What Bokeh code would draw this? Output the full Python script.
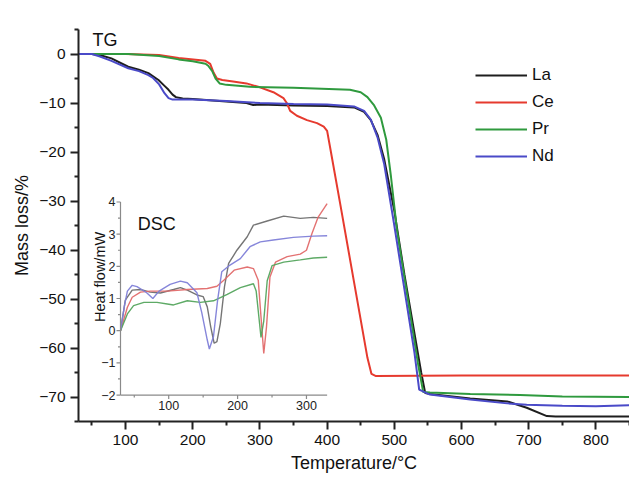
import math
from bokeh.plotting import figure
from bokeh.models import Range1d, FixedTicker, Legend, LegendItem
from bokeh.core.properties import value
from bokeh.embed import file_html
from bokeh.resources import INLINE

FONT = "Liberation Sans"

# ---------------- TG data (temperature / °C, mass loss / %) ----------------
tg_la_t = [30, 50, 64, 79, 104, 120, 134, 149, 158, 164, 170, 175, 185, 200, 250, 280, 290, 300, 350, 400,
           440, 455, 465, 475, 485, 500, 515, 530, 540, 546, 553, 613, 668, 697, 727, 740, 850]
tg_la_m = [0, 0, -0.3, -0.9, -2.6, -3.2, -3.9, -5.3, -6.5, -7.3, -8.3, -8.8, -9.1, -9.2, -9.7, -10.0, -10.4, -10.3, -10.5, -10.6,
           -10.9, -11.8, -13.5, -16.5, -21.5, -32, -45, -57, -65, -69.2, -69.4, -70.3, -70.9, -72.2, -73.9, -74.0, -74.0]

tg_ce_t = [30, 100, 150, 179, 219, 226, 231, 236, 244, 260, 280, 300, 320, 335, 340, 345, 355, 370, 385, 395,
           400, 405, 420, 440, 460, 466, 472, 600, 850]
tg_ce_m = [0, 0, -0.2, -0.8, -1.4, -2.0, -3.8, -5.0, -5.3, -5.6, -6.0, -6.8, -7.8, -9.0, -10.0, -11.6, -12.6, -13.5, -14.1, -14.8,
           -15.7, -19.5, -31, -46.5, -62, -65.3, -65.7, -65.6, -65.6]

tg_pr_t = [30, 104, 150, 179, 200, 219, 223, 229, 234, 240, 250, 285, 350, 434, 450, 460, 470, 480, 488, 495,
           504, 520, 535, 543, 553, 613, 687, 750, 850]
tg_pr_m = [0, 0, -0.4, -1.1, -1.5, -2.0, -2.4, -3.5, -5.0, -6.0, -6.3, -6.7, -6.9, -7.3, -7.8, -8.8, -10.5, -13.0, -17.5, -25,
           -36, -50, -63, -69.0, -69.1, -69.4, -69.6, -69.9, -70.0]

tg_nd_t = [30, 50, 62, 79, 104, 120, 134, 141, 150, 158, 164, 170, 180, 200, 250, 300, 350, 400, 440, 455,
           465, 475, 485, 500, 515, 530, 537, 553, 613, 668, 697, 750, 800, 850]
tg_nd_m = [0, 0, -0.5, -1.4, -2.9, -3.5, -4.3, -4.9, -6.2, -8.0, -9.0, -9.3, -9.3, -9.3, -9.6, -10.0, -10.2, -10.3, -10.7, -11.6,
           -13.4, -17.0, -22.5, -35, -48, -61, -68.5, -69.5, -70.5, -71.3, -71.6, -71.8, -71.9, -71.7]

# ---------------- DSC inset data (temperature / °C, heat flow / mW) ----------------
dsc_la_t = [30, 37, 47, 59, 73, 88, 107, 117, 127, 141, 150, 156, 161, 166, 170, 175, 181, 187, 199, 214,
            223, 243, 267, 291, 310, 330]
dsc_la_v = [0, 0.95, 1.26, 1.28, 1.2, 1.17, 1.28, 1.34, 1.26, 1.11, 1.06, 0.74, 0.12, -0.39, -0.34, 0.23, 1.37, 2.09, 2.5, 2.92,
            3.28, 3.41, 3.56, 3.49, 3.52, 3.49]

dsc_ce_t = [30, 40, 47, 59, 73, 98, 127, 156, 170, 180, 195, 214, 223, 230, 234, 238, 242, 247, 255, 272,
            291, 300, 308, 317, 330]
dsc_ce_v = [0, 0.73, 1.04, 1.2, 1.23, 1.23, 1.28, 1.31, 1.38, 1.57, 1.88, 1.98, 1.93, 1.57, 0.43, -0.71, 0.12, 1.67, 2.13, 2.3,
            2.38, 2.5, 3.02, 3.53, 3.95]

dsc_pr_t = [30, 40, 49, 64, 83, 98, 107, 127, 146, 165, 185, 204, 223, 227, 231, 234, 238, 243, 250, 267,
            291, 310, 330]
dsc_pr_v = [0, 0.52, 0.78, 0.88, 0.88, 0.83, 0.8, 0.93, 0.88, 0.93, 1.13, 1.34, 1.46, 1.23, 0.41, -0.21, 0.3, 1.55, 2.02, 2.13,
            2.2, 2.26, 2.28]

dsc_nd_t = [30, 36, 40, 47, 54, 68, 77, 86, 102, 117, 127, 141, 148, 156, 159, 165, 171, 177, 189, 204,
            218, 233, 252, 281, 310, 330]
dsc_nd_v = [0, 0.8, 1.23, 1.41, 1.37, 1.18, 1.0, 1.23, 1.44, 1.54, 1.49, 1.18, 0.56, -0.29, -0.57, -0.18, 0.95, 1.83, 2.04, 2.24,
            2.61, 2.76, 2.82, 2.9, 2.94, 2.95]

# ticks
main_x_ticks = [100, 200, 300, 400, 500, 600, 700, 800]
main_x_minor = [50, 150, 250, 350, 450, 550, 650, 750, 850]
main_y_ticks = [-70, -60, -50, -40, -30, -20, -10, 0]
main_y_minor = [-75, -65, -55, -45, -35, -25, -15, -5, 5]
inset_x_ticks = [100, 200, 300]
inset_x_minor = [50, 150, 250]
inset_y_ticks = [-2, -1, 0, 1, 2, 3, 4]
inset_y_minor = [-1.5, -0.5, 0.5, 1.5, 2.5, 3.5]

names = ["La", "Ce", "Pr", "Nd"]
main_colors = ["#1e1e1e", "#e63a2e", "#2f9a3e", "#4a4ac8"]
dsc_colors = ["#6e6e6e", "#e26a6a", "#55a55e", "#8080d8"]


def minus(v):
    s = ("%g" % abs(v))
    return ("\u2212" + s) if v < 0 else s


p = figure(width=629, height=477, x_range=Range1d(30, 850), y_range=Range1d(-75, 5),
           output_backend="svg", toolbar_location=None,
           min_border_left=78, min_border_right=0, min_border_top=29, min_border_bottom=56)
p.outline_line_color = None
p.xgrid.visible = False
p.ygrid.visible = False
p.background_fill_color = "white"
p.border_fill_color = "white"

for ax in (p.xaxis[0], p.yaxis[0]):
    ax.axis_line_color = "#222222"
    ax.axis_line_width = 2
    ax.major_tick_line_color = "#222222"
    ax.major_tick_line_width = 2
    ax.minor_tick_line_color = "#222222"
    ax.minor_tick_line_width = 2
    ax.major_tick_in = 0
    ax.major_tick_out = 8
    ax.minor_tick_in = 0
    ax.minor_tick_out = 4
    ax.major_label_text_font = FONT
    ax.major_label_text_font_size = "15.5px"
    ax.major_label_text_color = "#111111"
    ax.axis_label_text_font = FONT
    ax.axis_label_text_font_size = "18px"
    ax.axis_label_text_font_style = "normal"
    ax.axis_label_text_color = "#111111"

p.xaxis[0].ticker = FixedTicker(ticks=main_x_ticks, minor_ticks=main_x_minor)
p.yaxis[0].ticker = FixedTicker(ticks=main_y_ticks, minor_ticks=main_y_minor)
p.yaxis[0].major_label_overrides = {v: minus(v) for v in main_y_ticks}
p.xaxis[0].axis_label = "Temperature/\u00b0C"
p.yaxis[0].axis_label = "Mass loss/%"
p.xaxis[0].major_label_standoff = 5
p.yaxis[0].major_label_standoff = 5
p.xaxis[0].axis_label_standoff = 5
p.yaxis[0].axis_label_standoff = 4

tg_series = [(tg_la_t, tg_la_m), (tg_ce_t, tg_ce_m), (tg_pr_t, tg_pr_m), (tg_nd_t, tg_nd_m)]
renderers = []
for (t, m), c in zip(tg_series, main_colors):
    renderers.append(p.line(t, m, line_color=c, line_width=2))

p.text(x=[51], y=[2.9], text=["TG"], text_font=value(FONT), text_font_size="18px",
       text_baseline="alphabetic", text_align="left", text_color="#111111")

legend = Legend(items=[LegendItem(label=n, renderers=[r]) for n, r in zip(names, renderers)],
                location=(397, 255), orientation="vertical",
                glyph_width=52, glyph_height=20, label_height=20, spacing=7,
                padding=0, margin=0, border_line_color=None, background_fill_alpha=0,
                label_text_font=FONT, label_text_font_size="17px", label_standoff=5,
                label_text_color="#111111")
p.add_layout(legend)

# ---------------- inset (DSC) ----------------
ins = p.subplot(x_source=Range1d(30, 330), y_source=Range1d(-2, 4),
                x_target=Range1d(92.5, 400), y_target=Range1d(-69.6, -30.2))

dsc_series = [(dsc_la_t, dsc_la_v), (dsc_ce_t, dsc_ce_v), (dsc_pr_t, dsc_pr_v), (dsc_nd_t, dsc_nd_v)]
for (t, v), c in zip(dsc_series, dsc_colors):
    ins.line(t, v, line_color=c, line_width=1.4, line_alpha=0.95)

axc = "#8a8a8a"
ins.line([30, 330], [-2, -2], line_color=axc, line_width=1.2)
ins.line([30, 30], [-2, 4], line_color=axc, line_width=1.2)
ins.ray(x=inset_x_ticks, y=[-2] * len(inset_x_ticks), length=4, length_units="screen",
        angle=-math.pi / 2, line_color=axc, line_width=1.2)
ins.ray(x=inset_x_minor, y=[-2] * len(inset_x_minor), length=2.5, length_units="screen",
        angle=-math.pi / 2, line_color=axc, line_width=1.2)
ins.ray(x=[30] * len(inset_y_ticks), y=inset_y_ticks, length=4, length_units="screen",
        angle=math.pi, line_color=axc, line_width=1.2)
ins.ray(x=[30] * len(inset_y_minor), y=inset_y_minor, length=2.5, length_units="screen",
        angle=math.pi, line_color=axc, line_width=1.2)

ins.text(x=inset_x_ticks, y=[-2] * len(inset_x_ticks), text=[minus(v) for v in inset_x_ticks],
         y_offset=6, text_align="center", text_baseline="top",
         text_font=value(FONT), text_font_size="12.5px", text_color="#222222")
ins.text(x=[30] * len(inset_y_ticks), y=inset_y_ticks, text=[minus(v) for v in inset_y_ticks],
         x_offset=-5, text_align="right", text_baseline="middle",
         text_font=value(FONT), text_font_size="12.5px", text_color="#222222")
ins.text(x=[-0.4], y=[1.67], text=["Heat flow/mW"], angle=math.pi / 2,
         text_align="center", text_baseline="middle",
         text_font=value(FONT), text_font_size="14.5px", text_color="#111111")
ins.text(x=[55], y=[3.32], text=["DSC"], text_align="left", text_baseline="alphabetic",
         text_font=value(FONT), text_font_size="18px", text_color="#111111")

open("out.html", "w").write(file_html(p, INLINE))
